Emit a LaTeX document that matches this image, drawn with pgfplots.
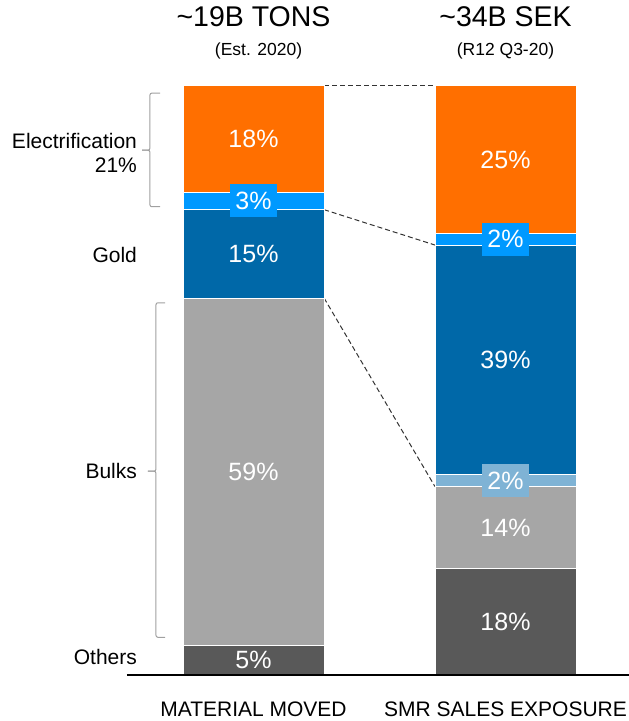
\documentclass[border=0pt]{standalone}
\usepackage{pgfplots}
\pgfplotsset{compat=1.18}
\usepackage{fontspec}
\setmainfont{Liberation Sans}

\definecolor{cOrange}{HTML}{FF6F00}
\definecolor{cLightBlue}{HTML}{0099FF}
\definecolor{cBlue}{HTML}{0068A8}
\definecolor{cSteel}{HTML}{7FB3D5}
\definecolor{cGray}{HTML}{A6A6A6}
\definecolor{cDark}{HTML}{595959}
\definecolor{cBracket}{HTML}{A0A0A0}

\tikzset{
  val/.style={text=white, font=\fontsize{25}{30}\selectfont},
  boxval/.style={val, inner xsep=5pt, minimum height=33pt},
  lab/.style={font=\fontsize{21}{24}\selectfont, anchor=east, inner sep=0pt},
  big/.style={font=\fontsize{28.5}{32}\selectfont},
  sub/.style={font=\fontsize{17.5}{21}\selectfont},
  bot/.style={font=\fontsize{21}{24}\selectfont},
  conn/.style={dash pattern=on 5pt off 3pt, black!80, line width=1pt},
  brk/.style={cBracket, line width=1pt, rounded corners=2pt},
}

\begin{document}
\begin{tikzpicture}
\useasboundingbox (-127pt,-46pt) rectangle (502pt,675pt);
\begin{axis}[
    axis on top,
    scale only axis,
    width=502pt, height=589pt,
    xmin=-0.502, xmax=1.490,
    ymin=0, ymax=100,
    ybar stacked,
    bar width=141pt,
    hide y axis,
    axis x line*=bottom,
    x axis line style={-, black, line width=1.3pt},
    xtick=\empty, ytick=\empty,
    clip=false,
]
% segments, bottom to top: (material moved, SMR sales exposure)
\addplot[fill=cDark, draw=white, line width=1pt]      coordinates {(0,5)  (1,18)};
\addplot[fill=cGray, draw=white, line width=1pt]      coordinates {(0,59) (1,14)};
\addplot[fill=cSteel, draw=white, line width=1pt]     coordinates {(0,0)  (1,2)};
\addplot[fill=cBlue, draw=white, line width=1pt]      coordinates {(0,15) (1,39)};
\addplot[fill=cLightBlue, draw=white, line width=1pt] coordinates {(0,3)  (1,2)};
\addplot[fill=cOrange, draw=white, line width=1pt]    coordinates {(0,18) (1,25)};

% connectors
\draw[conn] (axis cs:0.28,100) -- (axis cs:0.72,100);
\draw[conn] (axis cs:0.28,79) -- (axis cs:0.72,73);
\draw[conn] (axis cs:0.28,64) -- (axis cs:0.72,32);

% anchors for the value labels (set after the axis, above the bars)
\coordinate (a1) at (axis cs:0,2.5);
\coordinate (a2) at (axis cs:0,34.5);
\coordinate (a3) at (axis cs:0,71.5);
\coordinate (a4) at (axis cs:0,80.5);
\coordinate (a5) at (axis cs:0,91);
\coordinate (b1) at (axis cs:1,9);
\coordinate (b2) at (axis cs:1,25);
\coordinate (b3) at (axis cs:1,33);
\coordinate (b4) at (axis cs:1,53.5);
\coordinate (b5) at (axis cs:1,74);
\coordinate (b6) at (axis cs:1,87.5);

% brackets
\draw[brk] (axis cs:-0.371,98.8) -- (axis cs:-0.411,98.8) -- (axis cs:-0.411,89.1) -- (axis cs:-0.442,89.1);
\draw[brk] (axis cs:-0.442,89.1) -- (axis cs:-0.411,89.1) -- (axis cs:-0.411,79.5) -- (axis cs:-0.371,79.5);
\draw[brk] (axis cs:-0.351,63.2) -- (axis cs:-0.387,63.2) -- (axis cs:-0.387,34.6) -- (axis cs:-0.419,34.6);
\draw[brk] (axis cs:-0.419,34.6) -- (axis cs:-0.387,34.6) -- (axis cs:-0.387,6.4) -- (axis cs:-0.351,6.4);

% category labels on the left
\node[lab, align=right] at (axis cs:-0.462,88.6) {Electrification\\21\%};
\node[lab] at (axis cs:-0.462,71.3) {Gold};
\node[lab] at (axis cs:-0.462,34.6) {Bulks};
\node[lab] at (axis cs:-0.462,3.0) {Others};

% column titles
\node[big] at (axis cs:0,111.8) {\textasciitilde19B TONS};
\node[sub] at (axis cs:0.02,105.9) {(Est. 2020)};
\node[big] at (axis cs:1,111.8) {\textasciitilde34B SEK};
\node[sub] at (axis cs:1,105.9) {(R12 Q3-20)};

% bottom labels
\node[bot] at (axis cs:0,-5.9) {MATERIAL MOVED};
\node[bot] at (axis cs:1,-5.9) {SMR SALES EXPOSURE};
\end{axis}

\node[val] at (a1) {5\%};
\node[val] at (a2) {59\%};
\node[val] at (a3) {15\%};
\node[boxval, fill=cLightBlue] at (a4) {3\%};
\node[val] at (a5) {18\%};
\node[val] at (b1) {18\%};
\node[val] at (b2) {14\%};
\node[boxval, fill=cSteel] at (b3) {2\%};
\node[val] at (b4) {39\%};
\node[boxval, fill=cLightBlue] at (b5) {2\%};
\node[val] at (b6) {25\%};
\end{tikzpicture}
\end{document}
